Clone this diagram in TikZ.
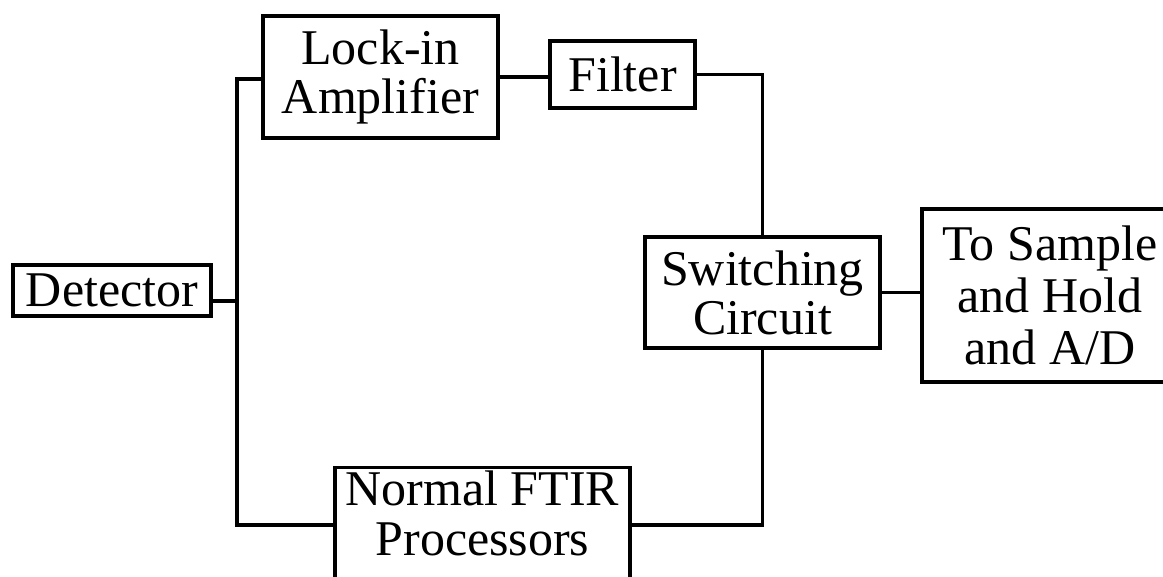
\documentclass[tikz,border=0pt]{standalone}
\usepackage{fontspec}
\setmainfont{Liberation Serif}
\begin{document}
\begin{tikzpicture}[x=1pt,y=-1pt,
  blk/.style={draw, line width=3.4pt, inner sep=0pt, align=center, font=\fontsize{50}{49}\selectfont},
  wire/.style={line width=3.2pt}]
\useasboundingbox (0,0) rectangle (1163,577);
\node[blk, minimum width=198pt, minimum height=51pt] (det) at (112,290.5) {Detector};
\node[blk, minimum width=235pt, minimum height=122pt] (lock) at (380.5,77) {Lock-in\\Amplifier};
\node[blk, minimum width=145pt, minimum height=67pt] (filt) at (622.5,74.5) {Filter};
\node[blk, minimum width=235pt, minimum height=111pt] (sw) at (762.5,292.5) {Switching\\Circuit};
\node[blk, font=\fontsize{50}{52}\selectfont, minimum width=256pt, minimum height=173pt] (samp) at (1050,295.5) {To Sample\\and Hold\\and A/D};
\node[blk, font=\fontsize{50}{50}\selectfont, minimum width=295pt, inner ysep=3pt, anchor=north] (ftir) at (482.5,466) {Normal FTIR\\Processors\\\phantom{X}};
\coordinate (bustop) at (237,79);
\coordinate (busbot) at (237,525);
\coordinate (busdet) at (237,301);
\draw[wire] (lock.west |- bustop) -- (bustop) -- (busbot) -- (ftir.west |- busbot);
\draw[wire] (det.east |- busdet) -- (busdet);
\draw[wire] (lock.east) -- (lock.east -| filt.west);
\draw[wire] (filt.east) -| (sw.north);
\draw[wire] (sw.south) |- (ftir.east |- busbot);
\draw[wire] (sw.east) -- (sw.east -| samp.west);
\end{tikzpicture}
\end{document}
